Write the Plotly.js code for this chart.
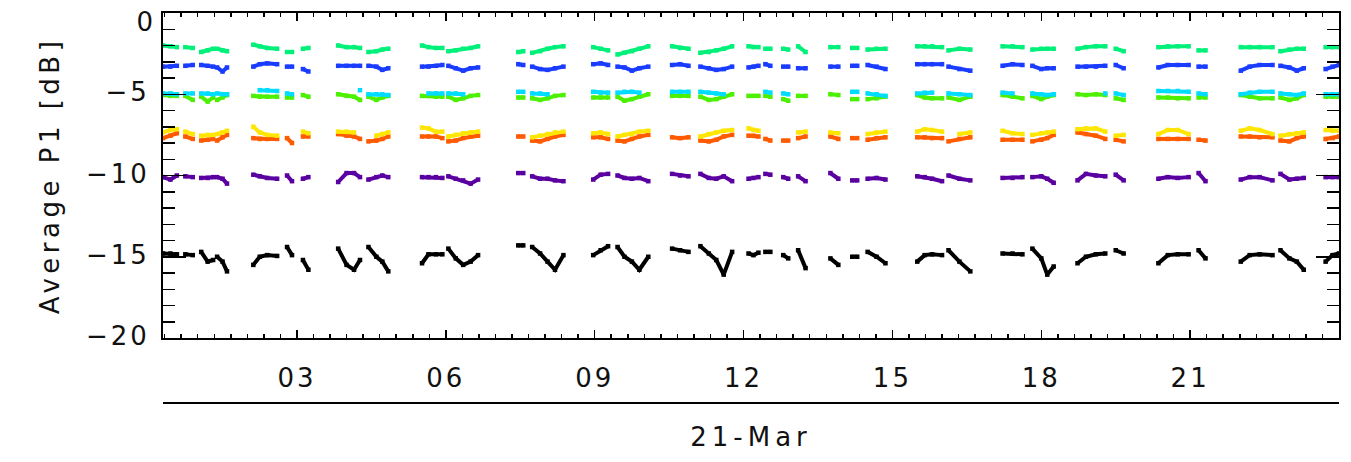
<!DOCTYPE html>
<html><head><meta charset="utf-8">
<script src="https://cdn.plot.ly/plotly-3.0.1.min.js"></script>
<style>
html,body{margin:0;padding:0;background:#fff;}
#chart{width:1351px;height:462px;}
#chart text{letter-spacing:3px;}
#chart text.ytitle{letter-spacing:4.5px;}
#chart text.xtitle{letter-spacing:5px;}
</style></head><body><div id="chart"></div>
<script>
// Time (hours of 21-Mar) of the samples in each observing segment
const segTimes = [
[0.30,0.45,0.58],[0.75,0.90],[1.07,1.20,1.31],[1.39,1.50,1.59],
[2.12,2.25,2.40,2.60],[2.80,2.90],[3.12,3.23],
[3.83,4.00,4.15,4.27],[4.44,4.60,4.72,4.84],
[5.52,5.65,5.80,5.93],[6.05,6.20,6.35,6.50,6.65],
[7.46,7.56],[7.74,7.90,8.05,8.20,8.37],
[8.97,9.12,9.27],[9.46,9.60,9.75,9.90,10.08],
[10.56,10.72,10.89],[11.13,11.30,11.45,11.60,11.77],
[12.10,12.20,12.30],[12.44,12.54],[12.80,12.90],[13.10,13.25],
[13.75,13.91],[14.19,14.29],[14.50,14.68,14.86],
[15.50,15.65,15.80,16.00],[16.13,16.35,16.57],
[17.22,17.42,17.62],[17.82,18.00,18.12,18.25],
[18.73,18.90,19.10,19.29],[19.50,19.66],
[20.36,20.55,20.75,20.97],[21.17,21.31],
[22.02,22.20,22.40,22.66],[22.82,23.00,23.15,23.29],
[23.73,23.87,24.00]
];

const seriesSpringGreen = [
[-2.0,-2.05,-2.1],[-2.1,-2.15],[-2.4,-2.3,-2.2],[-2.2,-2.3,-2.35],
[-1.95,-2.05,-2.15,-2.2],[-2.4,-2.4],[-2.2,-2.15],
[-2.0,-2.1,-2.1,-2.15],[-2.4,-2.35,-2.25,-2.2],
[-2.0,-2.1,-2.15,-2.15],[-2.35,-2.3,-2.2,-2.15,-2.05],
[-2.4,-2.35],[-2.45,-2.35,-2.2,-2.1,-2.05],
[-2.1,-2.2,-2.3],[-2.55,-2.45,-2.35,-2.2,-2.05],
[-2.05,-2.15,-2.2],[-2.45,-2.4,-2.3,-2.2,-2.05],
[-2.05,-2.1,-2.1],[-2.2,-2.2],[-2.2,-2.25],[-2.05,-2.4],
[-2.1,-2.1],[-2.15,-2.15],[-2.25,-2.2,-2.2],
[-2.05,-2.05,-2.05,-2.1],[-2.3,-2.2,-2.25],
[-2.05,-2.05,-2.1],[-2.25,-2.2,-2.2,-2.2],
[-2.2,-2.1,-2.05,-2.05],[-2.2,-2.35],
[-2.1,-2.05,-2.05,-2.05],[-2.3,-2.3],
[-2.1,-2.1,-2.1,-2.1],[-2.35,-2.25,-2.2,-2.2],
[-2.1,-2.1,-2.1]
];

const seriesBlue = [
[-3.3,-3.3,-3.25],[-3.25,-3.2],[-3.2,-3.25,-3.3],[-3.35,-3.6,-3.35],
[-3.3,-3.15,-3.1,-3.15],[-3.3,-3.3],[-3.45,-3.6],
[-3.25,-3.25,-3.25,-3.25],[-3.25,-3.3,-3.5,-3.4],
[-3.3,-3.3,-3.25,-3.2],[-3.25,-3.4,-3.55,-3.4,-3.35],
[-3.15,-3.2],[-3.3,-3.45,-3.5,-3.4,-3.3],
[-3.15,-3.1,-3.2],[-3.3,-3.35,-3.55,-3.4,-3.3],
[-3.2,-3.15,-3.25],[-3.3,-3.4,-3.5,-3.45,-3.3],
[-3.35,-3.3,-3.25],[-3.15,-3.25],[-3.3,-3.3],[-3.4,-3.4],
[-3.3,-3.3],[-3.25,-3.25],[-3.2,-3.3,-3.45],
[-3.15,-3.15,-3.15,-3.15],[-3.3,-3.45,-3.55],
[-3.25,-3.15,-3.2],[-3.25,-3.45,-3.4,-3.4],
[-3.3,-3.3,-3.3,-3.25],[-3.2,-3.4],
[-3.35,-3.2,-3.2,-3.2],[-3.3,-3.3],
[-3.55,-3.3,-3.2,-3.2],[-3.25,-3.35,-3.55,-3.4],
[-3.45,-3.3,-3.2]
];

const seriesCyan = [
[-4.95,-4.95,-5.0],[-4.95,-4.95],[-4.95,-4.95,-5.0],[-4.95,-5.0,-5.0],
[null,-4.75,-4.75,-4.8],[-4.95,-5.0],[null,null],
[null,null,null,-4.75],[-5.0,-5.0,-5.0,-5.05],
[null,-4.95,-4.95,-4.95],[-4.95,-4.95,-5.0,null,null],
[-4.85,-4.85],[-4.95,-4.95,-5.0,null,null],
[-4.85,-4.9,-4.9],[-4.9,-4.85,-4.85,-4.9,null],
[-4.85,-4.85,-4.85],[-4.85,-4.9,-4.95,-5.0,null],
[null,null,null],[-4.85,-4.9],[-4.95,-5.0],[null,null],
[null,null],[-4.85,-4.85],[-4.95,-5.0,-5.1],
[-4.95,-4.9,-4.9,null],[-4.95,-5.0,-5.05],
[-4.9,-4.95,null],[-4.95,-5.0,-5.05,-5.0],
[null,null,null,-4.95],[-4.95,-5.05],
[-4.8,-4.8,-4.8,-4.85],[-4.95,-5.0],
[-5.0,-4.9,-4.85,-4.85],[-4.95,-5.0,-5.05,-4.95],
[-5.0,-5.0,-5.0]
];

const seriesGreen = [
[-5.05,-5.1,-5.1],[-5.1,-5.35],[-5.15,-5.45,-5.2],[-5.35,-5.2,-5.05],
[-5.1,-5.15,-5.15,-5.15],[-5.2,-5.2],[-5.05,-5.15],
[-5.0,-5.1,-5.15,-5.35],[-5.15,-5.35,-5.2,-5.1],
[-5.1,-5.1,-5.15,-5.15],[-5.15,-5.35,-5.25,-5.1,-5.05],
[-5.2,-5.2],[-5.25,-5.35,-5.25,-5.1,-5.05],
[-5.2,-5.2,-5.2],[-5.15,-5.4,-5.3,-5.15,-5.0],
[-5.1,-5.1,-5.1],[-5.15,-5.35,-5.3,-5.15,-5.0],
[-5.1,-5.1,-5.1],[-5.1,-5.15],[-5.3,-5.4],[-5.1,-5.1],
[-5.0,-5.05],[-5.3,-5.3],[-5.3,-5.25,-5.15],
[-5.05,-5.2,-5.25,-5.25],[-5.2,-5.35,-5.15],
[-5.05,-5.15,-5.25],[-5.1,-5.3,-5.15,-5.05],
[-5.0,-5.05,-5.0,-5.05],[-5.25,-5.35],
[-5.2,-5.2,-5.25,-5.25],[-5.2,-5.2],
[-5.05,-5.15,-5.25,-5.25],[-5.2,-5.35,-5.25,-5.05],
[-5.15,-5.15,-5.15]
];

const seriesYellow = [
[-7.35,-7.2,-7.15],[-7.3,-7.45],[-7.55,-7.5,-7.5],[-7.45,-7.35,-7.25],
[-7.0,-7.35,-7.5,-7.55],[null,null],[-7.3,-7.4],
[-7.3,-7.3,-7.35,null],[null,-7.55,-7.45,-7.35],
[-7.05,-7.1,-7.3,-7.3],[-7.6,-7.5,-7.4,-7.35,-7.3],
[null,null],[-7.65,-7.55,-7.45,-7.35,-7.3],
[-7.4,-7.35,-7.45],[-7.6,-7.5,-7.45,-7.3,-7.25],
[null,null,null],[-7.6,-7.45,-7.35,-7.25,-7.2],
[-7.1,-7.2,-7.25],[null,null],[null,null],[-7.35,-7.3],
[-7.35,-7.4],[null,null],[-7.45,-7.35,-7.3],
[-7.3,-7.15,-7.2,-7.3],[null,-7.45,-7.35],
[-7.25,-7.4,-7.45],[-7.5,-7.4,-7.35,-7.3],
[-7.15,-7.1,-7.1,-7.3],[-7.55,-7.5],
[-7.45,-7.2,-7.2,-7.45],[null,null],
[-7.25,-7.1,-7.2,-7.45],[-7.55,-7.45,-7.4,-7.35],
[-7.2,-7.25,-7.25]
];

const seriesOrange = [
[-7.7,-7.55,-7.4],[-7.6,-7.75],[-7.85,-7.8,-7.75],[-7.85,-7.65,-7.5],
[-7.7,-7.75,-7.75,-7.75],[-7.7,-8.0],[-7.6,-7.6],
[-7.45,-7.55,-7.6,-7.75],[-7.9,-7.85,-7.75,-7.6],
[-7.6,-7.6,-7.6,-7.7],[-7.9,-7.85,-7.7,-7.6,-7.55],
[-7.6,-7.6],[-7.85,-7.9,-7.75,-7.6,-7.5],
[-7.65,-7.65,-7.75],[-7.85,-7.9,-7.75,-7.6,-7.5],
[-7.65,-7.7,-7.65],[-7.85,-7.9,-7.8,-7.6,-7.5],
[-7.55,-7.55,-7.6],[-7.75,-7.85],[-7.85,-7.85],[-7.7,-7.6],
[-7.6,-7.75],[-7.7,-7.7],[-7.8,-7.7,-7.65],
[-7.65,-7.65,-7.7,-7.7],[-7.9,-7.75,-7.65],
[-7.8,-7.8,-7.8],[-7.9,-7.8,-7.7,-7.5],
[-7.35,-7.45,-7.55,-7.75],[-7.8,-7.9],
[-7.75,-7.75,-7.75,-7.75],[-7.8,-7.85],
[-7.6,-7.6,-7.65,-7.65],[-7.85,-7.9,-7.7,-7.6],
[-7.75,-7.7,-7.6]
];

const seriesPurple = [
[-10.1,-10.25,-10.0],[-10.05,-10.1],[-10.15,-10.15,-10.1],[-10.1,-10.2,-10.5],
[-9.95,-10.05,-10.15,-10.2],[-10.0,-10.35],[-10.2,-10.1],
[-10.4,-9.85,-9.85,-10.1],[-10.25,-10.1,-10.0,-10.1],
[-10.1,-10.1,-10.1,-10.15],[-10.05,-10.2,-10.3,-10.5,-10.25],
[-9.85,-9.85],[-10.05,-10.2,-10.2,-10.3,-10.35],
[-10.25,-9.95,-9.9],[-10.0,-10.15,-10.2,-10.15,-10.35],
[-9.9,-10.0,-10.05],[-9.9,-10.15,-10.2,-10.05,-10.35],
[-10.2,-10.15,-10.1],[-9.9,-9.95],[-10.1,-10.2],[-10.05,-10.35],
[-9.85,-10.2],[-10.3,-10.3],[-10.2,-10.15,-10.25],
[-10.05,-10.1,-10.2,-10.35],[-10.0,-10.2,-10.3],
[-10.15,-10.15,-10.1],[-10.1,-10.05,-10.2,-10.45],
[-10.3,-9.9,-10.0,-10.05],[-9.95,-10.3],
[-10.2,-10.1,-10.15,-10.1],[-9.85,-10.35],
[-10.25,-10.1,-10.1,-10.3],[-9.9,-10.25,-10.2,-10.15],
[-10.1,-10.1,-10.1]
];

const seriesBlack = [
[-14.8,-14.8,-14.85],[-14.85,-14.9],[-14.7,-15.3,-15.2],[-15.0,-15.3,-15.9],
[-15.5,-15.0,-14.9,-14.95],[-14.4,-14.9],[-15.2,-15.8],
[-14.5,-15.5,-15.8,-15.2],[-14.4,-15.0,-15.3,-15.9],
[-15.4,-14.85,-14.85,-14.85],[-14.5,-15.1,-15.5,-15.3,-14.9],
[-14.3,-14.3],[-14.4,-14.8,-15.3,-15.8,-14.9],
[-14.9,-14.6,-14.35],[-14.4,-15.0,-15.3,-15.8,-15.0],
[-14.5,-14.6,-14.7],[-14.35,-14.8,-15.2,-16.1,-14.7],
[-14.8,-14.9,-14.75],[-14.7,-14.7],[-14.9,-15.1],[-14.6,-15.7],
[-15.1,-15.5],[-15.0,-15.0],[-14.7,-15.0,-15.4],
[-15.3,-14.9,-14.85,-14.9],[-14.6,-15.3,-15.9],
[-14.8,-14.8,-14.85],[-14.5,-15.1,-16.1,-15.6],
[-15.4,-15.0,-14.85,-14.8],[-14.6,-14.8],
[-15.4,-14.9,-14.85,-14.85],[-14.6,-15.1],
[-15.3,-14.9,-14.85,-14.9],[-14.6,-15.1,-15.3,-15.8],
[-15.3,-14.9,-14.8]
];

const hourTicks = [3,6,9,12,15,18,21];
const hourLabels = ['03','06','09','12','15','18','21'];
const dbTicks = [-20,-15,-10,-5,0];
// the top label ("0") is drawn as an annotation so it sits inside the page like in the reference
const dbLabels = ['\u221220','\u221215','\u221210','\u22125',''];
const topDbLabel = '0';

function flatten(vals){
  const x=[], y=[];
  segTimes.forEach((ts,i)=>{
    ts.forEach((t,j)=>{ x.push(t); y.push(vals[i][j]); });
    x.push(null); y.push(null);
  });
  return {x, y};
}

const order = [
  [seriesBlack,'#000000'],
  [seriesPurple,'#5a00a0'],
  [seriesOrange,'#ff5a00'],
  [seriesYellow,'#ffe600'],
  [seriesGreen,'#4cf000'],
  [seriesCyan,'#00dcff'],
  [seriesBlue,'#1a3cff'],
  [seriesSpringGreen,'#00f07a']
];

const traces = order.map(([vals,color])=>{
  const d = flatten(vals);
  return {x:d.x, y:d.y, type:'scatter', mode:'lines+markers', connectgaps:false,
    line:{color:color, width:4}, marker:{color:color, size:4.5, symbol:'square'},
    hoverinfo:'skip', showlegend:false};
});

const font = {family:'DejaVu Sans, sans-serif', size:26, color:'#111'};

const layout = {
  width:1351, height:462,
  margin:{l:163, r:12, t:13, b:124},
  paper_bgcolor:'#fff', plot_bgcolor:'#fff',
  showlegend:false,
  xaxis:{
    range:[0.3,24.0], tickmode:'array', tickvals:hourTicks, ticktext:hourLabels,
    ticks:'inside', ticklen:8, tickwidth:1.5, tickcolor:'#000',
    minor:{tickmode:'linear', tick0:0, dtick:1/3, ticks:'inside', ticklen:4, tickwidth:1.5, tickcolor:'#000', showgrid:false},
    showline:true, linecolor:'#000', linewidth:2, mirror:'ticks',
    showgrid:false, zeroline:false, tickfont:font, ticklabelstandoff:16,
    title:{text:'21-Mar', font:font, standoff:36}
  },
  yaxis:{
    range:[-20,0], tickmode:'array', tickvals:dbTicks, ticktext:dbLabels,
    ticks:'inside', ticklen:23, tickwidth:1.5, tickcolor:'#000',
    minor:{tickmode:'linear', tick0:0, dtick:1, ticks:'inside', ticklen:12, tickwidth:1.5, tickcolor:'#000', showgrid:false},
    showline:true, linecolor:'#000', linewidth:2, mirror:'ticks',
    showgrid:false, zeroline:false, tickfont:font, ticklabelstandoff:6,
    ticklabelshift:-2,
    title:{text:'Average P1 [dB]', font:font, standoff:28}
  },
  annotations:[{text:topDbLabel, xref:'paper', yref:'y', x:0, y:0,
    xanchor:'right', yanchor:'middle', xshift:-6, yshift:-9,
    showarrow:false, font:font}],
  shapes:[{type:'line', xref:'paper', yref:'paper', x0:0, x1:1, y0:-0.2, y1:-0.2,
    line:{color:'#000', width:2}}]
};

Plotly.newPlot('chart', traces, layout, {displayModeBar:false, staticPlot:true});
</script></body></html>
